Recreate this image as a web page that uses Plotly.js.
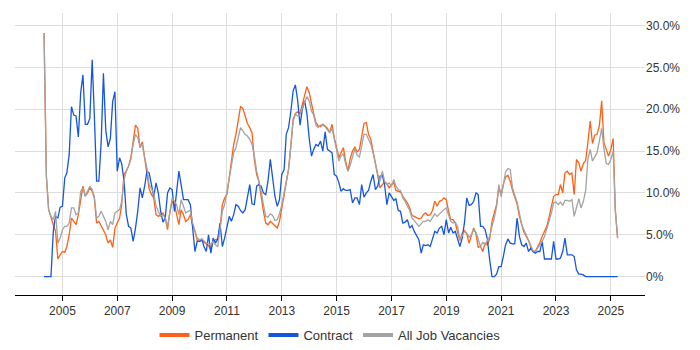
<!DOCTYPE html>
<html>
<head>
<meta charset="utf-8">
<script src="https://cdn.plot.ly/plotly-3.0.1.min.js"></script>
<style>html,body{margin:0;padding:0;background:#fff}#chart{width:700px;height:350px}</style>
</head>
<body>
<div id="chart"></div>
<script>
// Monthly series, first month May 2004
const startYear = 2004, startMonth = 5;

const permanent = [29.1,12.0,8.0,7.0,6.2,5.4,2.1,2.6,3.0,2.9,3.6,5.0,7.0,6.6,6.2,7.4,9.2,10.8,9.6,10.0,
10.6,10.2,9.4,6.4,6.6,6.0,5.6,5.0,4.0,4.4,3.5,5.8,6.4,7.0,8.6,12.2,12.6,13.2,14.2,16.5,
18.1,17.7,15.4,16.1,14.0,12.5,10.5,9.8,9.4,7.4,7.2,7.4,7.6,7.0,5.6,7.6,9.0,8.6,7.4,6.2,
8.0,7.4,6.6,6.8,7.4,6.2,5.4,4.3,4.2,4.3,4.1,3.9,3.7,3.2,4.2,4.4,4.5,5.8,8.6,9.4,
9.8,11.8,13.8,15.8,17.0,18.5,20.3,20.1,19.3,18.3,17.8,17.2,14.0,12.2,11.4,9.4,7.8,6.4,6.2,6.6,
6.3,6.0,5.8,6.6,8.2,9.6,11.4,12.8,15.6,18.8,19.5,19.7,19.5,20.6,21.8,22.7,22.0,20.6,19.5,18.4,
18.0,17.9,18.2,18.0,17.7,17.2,18.2,16.6,15.2,14.2,14.8,15.4,13.8,12.6,14.1,15.0,15.5,14.9,15.2,16.8,
18.3,18.4,17.0,16.4,15.0,13.8,12.2,10.6,11.0,11.3,11.1,10.6,11.0,11.2,10.3,10.2,10.1,9.6,9.2,8.8,
8.2,7.3,7.2,7.0,6.9,7.0,7.4,7.6,7.3,7.4,7.9,9.0,8.4,9.0,9.1,9.4,9.2,7.8,6.8,6.8,
6.4,5.3,4.3,5.2,5.5,5.1,4.0,4.9,5.8,5.1,3.5,3.6,3.0,4.0,3.8,4.5,6.6,7.6,8.6,10.6,
9.8,11.1,11.9,12.1,11.4,10.3,9.6,8.7,7.2,6.2,5.3,4.8,4.3,3.5,3.0,3.0,3.5,4.1,4.8,5.4,
6.0,7.1,8.6,9.6,9.8,9.8,11.0,10.0,12.4,12.6,12.2,12.4,9.8,14.0,13.6,12.6,13.5,13.9,16.0,18.6,
15.9,16.9,17.0,18.0,21.0,16.0,15.2,14.4,15.2,16.5,8.0,4.6];

const contract = [0,0,0,0,5.4,7.2,7.0,8.3,8.4,11.8,12.4,14.6,20.3,19.3,19.2,16.7,22.0,24.1,18.2,18.2,
18.9,25.9,19.5,11.4,11.4,16.1,24.3,17.5,15.5,16.5,20.9,22.1,12.6,14.2,13.5,11.5,7.5,6.0,5.8,4.2,
5.8,7.8,10.6,9.4,10.8,12.6,12.4,11.0,9.6,11.2,10.0,7.8,6.5,7.0,10.0,10.6,10.4,7.8,10.4,12.6,
11.0,9.2,9.2,9.2,8.6,6.0,3.0,4.2,4.2,4.5,3.6,3.0,5.0,2.8,4.6,4.0,4.5,6.4,3.6,4.6,
5.8,7.2,6.6,7.4,8.6,8.4,7.9,7.6,8.0,9.5,11.0,8.7,8.6,10.8,11.0,10.8,10.0,9.8,11.4,14.0,
11.4,9.6,8.4,9.2,12.2,12.8,17.0,17.8,19.7,22.2,22.9,21.0,18.1,20.0,21.0,19.5,16.5,14.4,15.2,15.8,
15.6,16.2,15.0,17.3,15.2,15.0,14.8,12.2,12.0,11.2,10.2,10.5,10.3,10.3,10.4,8.8,9.4,9.4,8.6,11.0,
9.5,10.0,10.3,11.4,12.2,10.4,10.8,12.0,12.1,11.0,8.6,10.0,9.5,9.1,9.3,7.9,7.8,6.4,6.5,6.8,
5.8,6.1,5.4,4.8,4.4,2.8,3.8,3.7,3.8,3.6,4.4,5.4,5.2,5.8,6.0,5.0,6.8,5.2,5.9,5.2,
5.4,4.6,3.6,4.6,6.5,9.4,8.5,8.6,9.0,10.0,9.8,6.0,6.0,5.6,4.5,2.0,0,0,0.3,1.2,
1.2,2.5,3.8,4.5,4.0,3.9,3.9,7.0,4.8,3.8,3.6,4.0,3.0,3.4,3.0,2.8,3.0,3.0,4.2,2.1,
2.1,2.1,2.1,4.2,2.1,2.1,2.2,3.0,4.6,2.6,2.6,2.6,2.4,0.8,0.3,0.3,0.2,0,0,0,
0,0,0,0,0,0,0,0,0,0,0,0];

const allJobs = [29.1,12.0,8.0,7.2,6.8,7.8,4.0,4.6,5.6,6.0,6.0,6.4,8.2,8.2,7.4,7.6,10.2,10.6,9.6,10.2,
10.8,10.4,9.6,7.0,7.2,7.8,7.2,6.6,5.6,6.6,6.2,7.6,7.8,8.0,9.0,11.5,12.6,13.2,14.0,15.8,
17.0,16.6,15.5,15.8,14.2,13.0,11.0,10.5,10.0,8.4,7.8,7.2,7.4,7.0,6.0,8.0,9.4,9.0,8.6,7.4,
9.2,8.4,7.6,7.8,7.9,6.4,5.4,4.6,4.4,4.5,4.3,4.0,3.9,3.8,4.2,3.8,3.6,5.6,7.8,8.6,
10.2,11.8,13.6,14.8,15.4,16.8,17.8,17.4,17.0,16.8,16.4,15.8,14.5,12.6,11.6,10.2,8.6,7.2,7.1,7.5,
7.3,6.7,6.8,7.5,8.6,10.0,11.6,12.8,15.5,18.6,19.4,19.2,19.4,20.0,20.8,21.5,21.0,19.8,19.3,18.1,
17.8,18.1,18.1,17.9,17.5,17.2,17.7,16.4,15.0,13.8,14.4,14.7,13.5,12.6,13.3,14.4,15.3,14.5,14.3,15.6,
17.0,17.0,16.4,15.8,14.8,13.4,12.3,11.4,12.6,11.4,11.0,11.2,10.8,11.6,10.8,10.4,10.3,9.4,9.0,8.4,
7.9,7.0,6.7,6.4,6.0,6.3,6.6,6.6,6.8,6.6,7.0,7.5,7.2,7.5,7.7,8.0,8.2,7.2,6.6,6.4,
6.5,6.0,4.4,4.9,5.4,5.2,4.7,5.0,5.6,5.3,4.4,3.6,4.1,3.8,4.3,4.8,6.0,7.0,8.4,11.0,
9.5,11.2,12.5,12.9,12.8,10.6,9.8,8.9,7.6,6.2,5.6,5.0,4.4,3.8,3.1,3.0,3.4,3.8,4.2,4.8,
5.6,6.6,7.6,8.8,8.9,8.6,8.9,8.5,9.1,9.1,9.0,9.2,7.2,8.4,9.3,8.2,9.0,10.3,14.0,15.2,
13.8,14.3,14.8,16.2,17.7,15.3,13.5,13.4,14.0,15.0,8.0,4.6];

const seriesNames = ['Permanent', 'Contract', 'All Job Vacancies'];
const yTickVals = [0, 5, 10, 15, 20, 25, 30];
const yTickText = ['0%', '5.0%', '10.0%', '15.0%', '20.0%', '25.0%', '30.0%'];

// month dates for the x axis
const months = [];
for (let i = 0; i < permanent.length; i++) {
  const t = (startMonth - 1) + i;
  const y = startYear + Math.floor(t / 12);
  const m = (t % 12) + 1;
  months.push(y + '-' + String(m).padStart(2, '0') + '-01');
}

const colors = ['#ff6014', '#1656dd', '#a3a3a3'];
const values = [permanent, contract, allJobs];

const traces = [];
values.forEach((v, i) => {
  traces.push({
    x: months, y: v, type: 'scatter', mode: 'lines', name: seriesNames[i],
    line: {color: colors[i], width: 1.3}, showlegend: false, hoverinfo: 'skip'
  });
});
// legend entries with thicker swatches
seriesNames.forEach((n, i) => {
  traces.push({
    x: [null], y: [null], type: 'scatter', mode: 'lines', name: n,
    line: {color: colors[i], width: 4}, showlegend: true
  });
});

const layout = {
  width: 700, height: 350,
  margin: {l: 15, r: 55, t: 13, b: 55, autoexpand: false},
  paper_bgcolor: '#fff', plot_bgcolor: '#fff',
  font: {family: '"Liberation Sans", Arial, sans-serif', color: '#333', size: 12},
  xaxis: {
    type: 'date', range: ['2003-04-10', '2026-04-01'],
    tick0: '2005-01-01', dtick: 'M24', tickformat: '%Y',
    showgrid: true, gridcolor: '#dddddd', gridwidth: 1,
    showline: true, linecolor: '#000', linewidth: 1,
    ticks: 'outside', ticklen: 5, tickcolor: '#000',
    tickfont: {size: 12, color: '#333'}, zeroline: false
  },
  yaxis: {
    side: 'right', range: [-2.2, 31.5],
    tickmode: 'array', tickvals: yTickVals, ticktext: yTickText,
    showgrid: true, gridcolor: '#dddddd', gridwidth: 1,
    zeroline: false, showline: false, ticks: '',
    tickfont: {size: 12, color: '#333'}
  },
  legend: {
    orientation: 'h', x: 0.5, xanchor: 'center', y: -0.142, yanchor: 'middle',
    font: {size: 13, color: '#333'}, traceorder: 'normal'
  },
  showlegend: true
};

Plotly.newPlot('chart', traces, layout, {staticPlot: true, displayModeBar: false});
</script>
</body>
</html>
